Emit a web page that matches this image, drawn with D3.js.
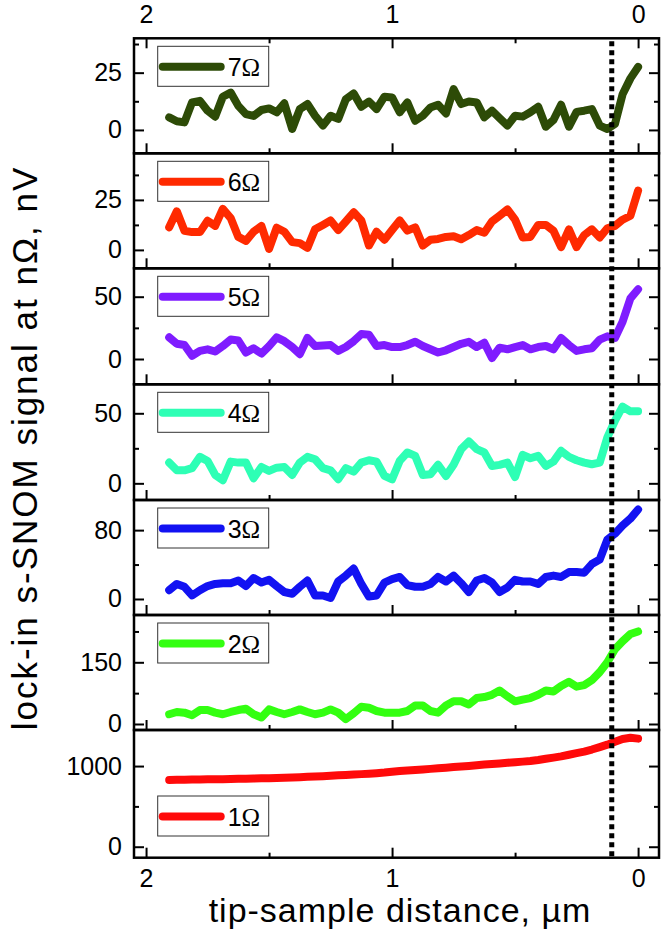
<!DOCTYPE html>
<html><head><meta charset="utf-8">
<script src="https://cdn.jsdelivr.net/npm/d3@7"></script>
<style>
body{margin:0;background:#fff}
svg{display:block}
text{font-family:"Liberation Sans",Arial,sans-serif}
</style>
</head><body>
<svg id="c" width="666" height="933"></svg>
<script>
// tip-sample distance (µm) — common sampling grid
const distances = [1.906,1.875,1.844,1.813,1.781,1.750,1.719,1.688,1.656,1.625,1.594,1.563,1.531,1.500,1.469,1.438,1.406,1.375,1.344,1.313,1.281,1.250,1.219,1.188,1.156,1.125,1.094,1.063,1.031,1.000,0.969,0.938,0.906,0.875,0.844,0.813,0.781,0.750,0.719,0.688,0.656,0.625,0.594,0.563,0.531,0.500,0.469,0.438,0.406,0.375,0.344,0.313,0.281,0.250,0.219,0.188,0.156,0.125,0.094,0.063,0.031,0.000];

const harmonics = ["7","6","5","4","3","2","1"];

const signal7 = [5.5,3.8,3.3,12,12.7,8.4,5.8,14.5,16.3,10.5,6.9,6.1,8.7,9.4,7.7,11.6,0.4,9.1,11.3,6.2,1.9,6.2,4.8,13.4,15.9,10.1,12.4,9.1,14.5,14.2,7.7,12,4.0,6.2,9.8,11,7.2,17.8,11.3,12.4,12,5.5,8.4,5.2,1.9,6.2,5.8,7.7,10.1,1.4,4.3,11,1.4,7.9,8.4,9.1,1.9,0.4,2.6,15.6,22.5,27.5];
const signal6 = [11.3,19.3,9.6,8.9,8.9,14.6,12,20.5,15.9,6.5,4.5,9.1,12,0.5,11.1,9.1,3.9,3.4,1.0,10.3,12.5,14.7,9.9,14.2,18.8,14.7,2.2,9.1,5.1,9.9,14.7,9.6,11.3,2.2,5.1,5.5,6.5,6.8,5.3,7.4,9.9,8.6,14.2,17.1,20.2,15.1,6.2,6.5,12.5,12.5,9.6,1.4,10.3,1.4,7.4,10.3,6.2,10.8,12,15.1,17.1,29.6];
const signal5 = [17.4,12.2,11.2,2.6,6.5,7.8,6.0,10.4,15.6,14.8,5.2,8.6,4.4,10.4,17.4,14.3,9.6,3.9,16.9,10.4,10.9,11.2,6.5,9.6,14.3,20,19.5,10.4,11.2,9.6,9.6,11.2,13.8,10.4,7.8,5.2,7.0,9.6,12.2,13.8,9.6,13.0,0.8,9.1,7.8,9.6,11.2,7.8,9.6,10.4,7.8,16.9,11.2,6.5,7.8,8.6,15.6,18.2,16.9,29.9,48.7,56];
const signal4 = [14.8,9.3,9.3,10.8,18.9,16.0,6.0,2.2,15.5,14.8,14.8,3.6,11.7,8.9,11.2,11.7,6.0,14.8,18.9,17.2,10.8,9.3,2.9,10.8,8.4,14.8,16.5,15.5,5.3,2.9,16.0,22.0,19.6,6.0,6.5,13.2,5.3,13.2,24.4,29.9,24.4,22.0,12.4,13.2,14.8,4.5,20.3,17.9,19.6,12.4,15.5,23.2,18.9,16.5,14.8,13.6,14.8,32.8,44.7,54.8,51.4,51.4];
const signal3 = [10.2,17.5,14.2,4.1,10.2,15.0,17.5,18.3,18.3,21.5,15.0,24.4,19.1,22.3,15.0,8.1,6.1,14.2,21.5,4.1,4.1,1.2,20.3,27.2,35.3,17.5,2.8,4.1,19.1,23.1,25.6,16.2,14.2,14.2,17.5,25.6,20.3,27.2,18.3,8.1,21.5,24.4,19.1,8.1,13.4,22.3,20.3,20.3,17.5,25.6,27.2,25.6,31.3,31.3,30.5,40.6,45.9,69.0,75.9,85.3,93.4,104];
const signal2 = [23.7,29.2,27.6,21.3,33.9,33.9,27.6,23.7,29.2,33.9,37.1,23.7,15.8,35.5,29.2,23.7,29.2,35.5,29.2,23.7,27.6,35.5,27.6,11.8,26,41.8,39.5,31.6,27.6,27.6,27.6,31.6,45,45,31.6,27.6,45,55.2,55.2,47.3,63.1,65.5,71,81.3,67.1,55.2,59.2,63.1,71,81.3,78.9,92.3,102.6,90.7,94.7,106.5,126.2,150,181.5,201.2,218.6,225];
const signal1 = [828,829,830,832,834,835,837,838,840,842,843,845,848,850,852,855,858,862,866,870,875,880,885,890,895,900,905,912,920,930,938,945,952,958,965,972,980,988,995,1002,1010,1018,1025,1032,1040,1048,1055,1062,1075,1090,1105,1120,1140,1160,1180,1205,1235,1265,1300,1335,1350,1340];

const seriesList = [signal7, signal6, signal5, signal4, signal3, signal2, signal1];
const colors = ["#2d4b07","#ff2a00","#7f1cff","#2effb5","#1212f2","#33ff11","#ff0a0a"];

const yDomains = [[-10.2,40],[-9.2,48.3],[-20.3,72.8],[-11.9,70.7],[-18.6,115],[-14.6,265],[-136,1447]];
const yMajor = [[0,25],[0,25],[0,50],[0,50],[0,80],[0,150],[0,1000]];
const yMinor = [[12.5,37.5],[12.5,37.5],[25],[25],[40],[75,225],[500]];
const xMajor = [2,1,0];
const xMinor = [1.5,0.5];
const xDomain = [2.049,-0.085];
const markerDistance = 0.107;

// layout
const left = 134, right = 659;
const panelTops = [38.3,153.3,268.3,384.3,500,615,730];
const bottom = 857.7;

const svg = d3.select("#c");
const x = d3.scaleLinear().domain(xDomain).range([left,right]);
const fmt = d3.format("d");

seriesList.forEach((vals,i)=>{
  const top = panelTops[i];
  const bot = i < 6 ? panelTops[i+1] : bottom;
  const y = d3.scaleLinear().domain(yDomains[i]).range([bot, top]);
  const g = svg.append("g");

  const line = d3.line().x((d,k)=>x(distances[k])).y(d=>y(d));
  g.append("path").datum(vals).attr("d",line)
    .attr("fill","none").attr("stroke",colors[i]).attr("stroke-width",8)
    .attr("stroke-linejoin","round").attr("stroke-linecap","round");

  const styleAxis = sel => { sel.select(".domain").remove(); sel.selectAll("line").attr("stroke","#000").attr("stroke-width",2); sel.selectAll("text").attr("font-size",25).attr("fill","#000").attr("font-family","'Liberation Sans',Arial,sans-serif"); };
  g.append("g").attr("transform",`translate(${left},0)`)
    .call(d3.axisLeft(y).tickValues(yMajor[i]).tickSize(-10).tickPadding(12).tickFormat(fmt)).call(styleAxis);
  g.append("g").attr("transform",`translate(${left},0)`)
    .call(d3.axisLeft(y).tickValues(yMinor[i]).tickSize(-5).tickFormat("")).call(styleAxis);
  g.append("g").attr("transform",`translate(${right},0)`)
    .call(d3.axisRight(y).tickValues(yMajor[i]).tickSize(-10).tickFormat("")).call(styleAxis);
  g.append("g").attr("transform",`translate(${right},0)`)
    .call(d3.axisRight(y).tickValues(yMinor[i]).tickSize(-5).tickFormat("")).call(styleAxis);

  g.append("g").attr("transform",`translate(0,${bot})`)
    .call(d3.axisBottom(x).tickValues(xMajor).tickSize(-10).tickFormat("")).call(styleAxis);
  g.append("g").attr("transform",`translate(0,${bot})`)
    .call(d3.axisBottom(x).tickValues(xMinor).tickSize(-5).tickFormat("")).call(styleAxis);
  if (i === 0) {
    g.append("g").attr("transform",`translate(0,${top})`)
      .call(d3.axisTop(x).tickValues(xMajor).tickSize(-10).tickFormat("")).call(styleAxis);
    g.append("g").attr("transform",`translate(0,${top})`)
      .call(d3.axisTop(x).tickValues(xMinor).tickSize(-5).tickFormat("")).call(styleAxis);
  }

  g.append("rect").attr("x",left).attr("y",top).attr("width",right-left).attr("height",bot-top)
    .attr("fill","none").attr("stroke","#000").attr("stroke-width",2.5);

  const ly = i < 6 ? top + 8 : 796;
  const lg = g.append("g").attr("transform",`translate(157.7,${ly})`);
  lg.append("rect").attr("width",111).attr("height",40).attr("fill","#fff").attr("stroke","#333").attr("stroke-width",1);
  lg.append("line").attr("x1",5).attr("x2",63).attr("y1",20.5).attr("y2",20.5)
    .attr("stroke",colors[i]).attr("stroke-width",8).attr("stroke-linecap","round");
  const t = lg.append("text").attr("x",70).attr("y",29.5).attr("font-size",25).attr("fill","#000");
  t.append("tspan").text(harmonics[i]);
  t.append("tspan").attr("font-family","'Liberation Serif','Times New Roman',serif").text("Ω");
});

svg.append("line").attr("x1",x(markerDistance)).attr("x2",x(markerDistance))
  .attr("y1",panelTops[0]+3).attr("y2",bottom)
  .attr("stroke","#000").attr("stroke-width",5).attr("stroke-dasharray","5,4");

const lab = sel => { sel.select(".domain").remove(); sel.selectAll("line").remove(); sel.selectAll("text").attr("font-size",25).attr("fill","#000").attr("font-family","'Liberation Sans',Arial,sans-serif"); };
svg.append("g").attr("transform",`translate(0,${bottom})`)
  .call(d3.axisBottom(x).tickValues(xMajor).tickSize(0).tickPadding(12).tickFormat(fmt)).call(lab);
svg.append("g").attr("transform",`translate(0,${panelTops[0]})`)
  .call(d3.axisTop(x).tickValues(xMajor).tickSize(0).tickPadding(15).tickFormat(fmt)).call(lab);

svg.append("text").attr("x",400).attr("y",922).attr("text-anchor","middle")
  .attr("font-size",34).attr("letter-spacing",1).text("tip-sample distance, µm");
svg.append("text").attr("transform",`translate(37,${(panelTops[0]+bottom)/2}) rotate(-90)`)
  .attr("text-anchor","middle").attr("font-size",35).attr("letter-spacing",2).text("lock-in s-SNOM signal at nΩ, nV");
</script>
</body></html>
